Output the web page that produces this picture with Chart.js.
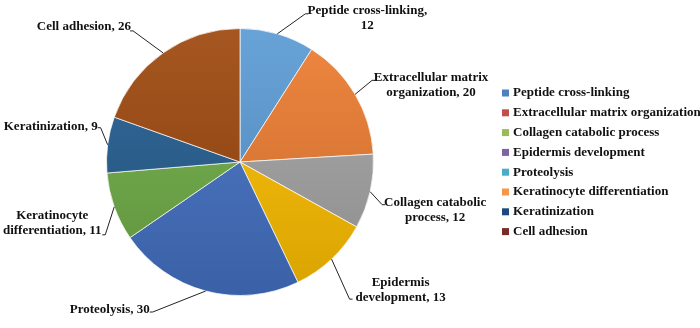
<!DOCTYPE html>
<html>
<head>
<meta charset="utf-8">
<script src="https://cdn.jsdelivr.net/npm/chart.js@4/dist/chart.umd.min.js"></script>
<style>
  html, body { margin: 0; padding: 0; background: #fff; }
  #wrap { width: 700px; height: 328px; }
</style>
</head>
<body>
<div id="wrap"><canvas id="pie" width="700" height="328"></canvas></div>
<script>
const categories = [
    'Peptide cross-linking',
    'Extracellular matrix organization',
    'Collagen catabolic process',
    'Epidermis development',
    'Proteolysis',
    'Keratinocyte differentiation',
    'Keratinization',
    'Cell adhesion'
];
const counts = [12, 20, 12, 13, 30, 11, 9, 26];

// slice label text as printed on the figure
const sliceLabels = [
    ['Peptide cross-linking,', '12'],
    ['Extracellular matrix', 'organization, 20'],
    ['Collagen catabolic', 'process, 12'],
    ['Epidermis', 'development, 13'],
    ['Proteolysis, 30'],
    ['Keratinocyte', 'differentiation, 11'],
    ['Keratinization, 9'],
    ['Cell adhesion, 26']
];

// slices and legend use different palettes in the original figure
const sliceColors = ['#5b9bd5', '#ed7d31', '#a5a5a5', '#ffc000', '#4472c4', '#70ad47', '#255e91', '#9e480e'];
const legendColors = ['#4f81bd', '#c0504d', '#9bbb59', '#8064a2', '#4bacc6', '#f79646', '#1f497d', '#772c2a'];

// leader line end (relative to arc edge) and text anchor (relative to line end)
const labelLayout = [
    { end: [28, -20], text: [62, -3], align: 'center' },
    { end: [17, -14], text: [59, -3], align: 'center' },
    { end: [12, 13], text: [53, -2], align: 'center' },
    { end: [18, 40], text: [51, -17], align: 'center' },
    { end: [-53, 21], text: [-3, -2], align: 'right' },
    { end: [-9, 28], text: [-53, -19], align: 'center' },
    { end: [-7, -17], text: [-3, -1], align: 'right' },
    { end: [-30, -22], text: [-2, -4], align: 'right' }
];

const FONT = 'bold 13px "Liberation Serif", "Times New Roman", serif';

function shade(hex, amt) {
    const n = parseInt(hex.slice(1), 16);
    let r = (n >> 16) & 255, g = (n >> 8) & 255, b = n & 255;
    const f = c => Math.round(amt >= 0 ? c + (255 - c) * amt : c * (1 + amt));
    return `rgb(${f(r)},${f(g)},${f(b)})`;
}

function sliceFill(ctx) {
    const chart = ctx.chart;
    const area = chart.chartArea;
    const base = sliceColors[ctx.dataIndex];
    if (!area) return base;
    const g = chart.ctx.createLinearGradient(0, area.top, 0, area.bottom);
    g.addColorStop(0, shade(base, 0.08));
    g.addColorStop(1, shade(base, -0.15));
    return g;
}

const labelPlugin = {
    id: 'sliceLabels',
    afterDatasetsDraw(chart) {
        const ctx = chart.ctx;
        const meta = chart.getDatasetMeta(0);
        ctx.save();
        ctx.font = FONT;
        ctx.fillStyle = '#111';
        ctx.strokeStyle = '#222';
        ctx.lineWidth = 1;
        ctx.textBaseline = 'middle';
        meta.data.forEach((arc, i) => {
            const mid = (arc.startAngle + arc.endAngle) / 2;
            const ax = arc.x + Math.cos(mid) * arc.outerRadius;
            const ay = arc.y + Math.sin(mid) * arc.outerRadius;
            const lay = labelLayout[i];
            const ex = ax + lay.end[0];
            const ey = ay + lay.end[1];
            ctx.beginPath();
            ctx.moveTo(ax, ay);
            ctx.lineTo(ex, ey);
            ctx.lineTo(ex + (lay.end[0] > 0 ? 3 : -3), ey);
            ctx.stroke();
            ctx.textAlign = lay.align;
            sliceLabels[i].forEach((line, k) => {
                ctx.fillText(line, ex + lay.text[0], ey + lay.text[1] + k * 15);
            });
        });
        ctx.restore();
    }
};

const legendPlugin = {
    id: 'sideLegend',
    afterDraw(chart) {
        const ctx = chart.ctx;
        ctx.save();
        ctx.font = FONT;
        ctx.textBaseline = 'middle';
        ctx.textAlign = 'left';
        categories.forEach((name, i) => {
            const y = 93 + i * 19.8;
            ctx.fillStyle = legendColors[i];
            ctx.fillRect(502, y - 3.5, 7, 7);
            ctx.fillStyle = '#111';
            ctx.fillText(name, 513, y);
        });
        ctx.restore();
    }
};

new Chart(document.getElementById('pie').getContext('2d'), {
    type: 'pie',
    data: {
        labels: categories,
        datasets: [{
            data: counts,
            backgroundColor: sliceFill,
            borderColor: 'rgba(255,255,255,0.7)',
            borderWidth: 1,
            hoverOffset: 0
        }]
    },
    options: {
        responsive: false,
        animation: false,
        layout: { padding: { top: 28, bottom: 32, left: 106, right: 326 } },
        plugins: {
            legend: { display: false },
            tooltip: { enabled: false }
        }
    },
    plugins: [labelPlugin, legendPlugin]
});
</script>
</body>
</html>
